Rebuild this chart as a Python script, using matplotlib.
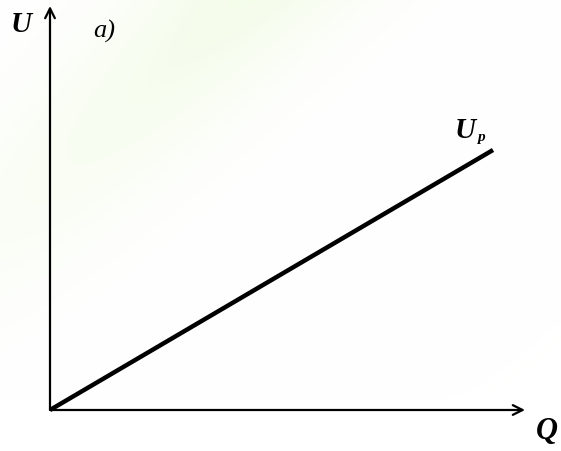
import numpy as np
import matplotlib
matplotlib.use("Agg")
import matplotlib.pyplot as plt

# Data
Q = [0, 10]
U_p = [0, 5.84]
x_label = "Q"
y_label = "U"
panel_label = "a)"

W, H = 561, 451
fig = plt.figure(figsize=(W / 100, H / 100), dpi=100)
fig.patch.set_facecolor("white")

# faint background watermark
bg = fig.add_axes([0, 0, 1, 1], zorder=0)
yy, xx = np.mgrid[0:H, 0:W]
d = (xx * 0.7 + yy * 0.7 - 170) / 80.0
band = np.exp(-d ** 2) * np.clip(1 - yy / 400, 0, 1)
img = np.ones((H, W, 3))
img[..., 0] -= 0.04 * band
img[..., 1] -= 0.01 * band
img[..., 2] -= 0.08 * band
bg.imshow(img, aspect="auto", extent=[0, W, H, 0])
bg.axis("off")

ox, oy = 50, 410
ex, ey = 493, 150
ax = fig.add_axes([ox / W, (H - oy) / H, (ex - ox) / W, (oy - ey) / H], zorder=1)
ax.patch.set_alpha(0)
ax.set_xlim(0, 10)
ax.set_ylim(0, 5.84)
for s in ax.spines.values():
    s.set_visible(False)
ax.set_xticks([])
ax.set_yticks([])

ax.plot(Q, U_p, color="black", lw=3.2, solid_capstyle="butt", clip_on=False)

# axes arrows
arrow_kw = dict(arrowstyle="->,head_length=0.7,head_width=0.35", lw=1.6, color="black",
                shrinkA=0, shrinkB=0)
ax.annotate("", xy=((525 - ox) / (ex - ox), 0), xytext=(0, 0),
            xycoords="axes fraction", arrowprops=arrow_kw, annotation_clip=False)
ax.annotate("", xy=(0, (oy - 6) / (oy - ey)), xytext=(0, 0),
            xycoords="axes fraction", arrowprops=arrow_kw, annotation_clip=False)

serif = ["Liberation Serif", "DejaVu Serif"]

fig.text(21 / W, 1 - 24 / H, y_label, family=serif, weight="bold", style="italic",
         fontsize=21, ha="center", va="center")
fig.text(104 / W, 1 - 31 / H, panel_label, family=serif, style="italic",
         fontsize=19, ha="center", va="center")
fig.text(547 / W, 1 - 432 / H, x_label, family=serif, weight="bold", style="italic",
         fontsize=22, ha="center", va="center")
fig.text(465 / W, 1 - 131 / H, "U", family=serif, weight="bold", style="italic",
         fontsize=21, ha="center", va="center")
fig.text(481 / W, 1 - 137 / H, "p", family=serif, weight="bold", style="italic",
         fontsize=11, ha="center", va="center")

fig.savefig("out.png", dpi=100)
